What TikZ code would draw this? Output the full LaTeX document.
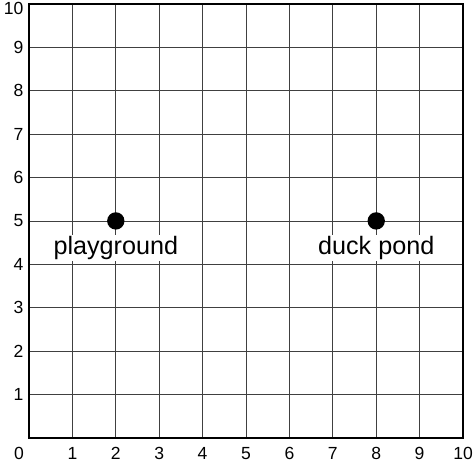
\documentclass[tikz,border=0pt]{standalone}
\usepackage{fontspec}
\setmainfont{Liberation Sans}
\usetikzlibrary{positioning}

\begin{document}
\begin{tikzpicture}[
    gridline/.style={
        draw=black!75,
        line width=0.5pt
    },
    frame/.style={
        draw=black,
        line width=1.2pt
    },
    tick/.style={
        font=\fontsize{11.5}{13}\selectfont,
        inner sep=0pt
    },
    spot/.style={
        circle,
        fill=black,
        minimum size=0.4cm,
        inner sep=0pt
    },
    place/.style={
        font=\fontsize{16.5}{19}\selectfont,
        fill=white,
        inner sep=1pt
    }
]
\useasboundingbox (-0.668,-0.645) rectangle (10.276,10.09);

% Grid
\foreach \i in {1,...,9} {
    \draw [gridline] (\i,0) -- (\i,10);
    \draw [gridline] (0,\i) -- (10,\i);
}
\draw [frame] (0,0) rectangle (10,10);

% Axis labels
\node (o) [tick] at (-0.23,-0.35) {0};
\foreach \i in {1,...,10} {
    \node (x\i) [tick] at (\i,-0.35) {\i};
}
\foreach \i in {1,...,9} {
    \node (y\i) [tick, anchor=east] at (-0.12,\i) {\i};
}
\node (y10) [tick, anchor=east] at (-0.12,9.9) {10};

% Places
\node (playground) [spot] at (2,5) {};
\node (pond) [spot] at (8,5) {};
\node (playlabel) [place, below=0.62cm of playground.center, anchor=center] {playground};
\node (pondlabel) [place, below=0.62cm of pond.center, anchor=center] {duck pond};

\end{tikzpicture}
\end{document}
